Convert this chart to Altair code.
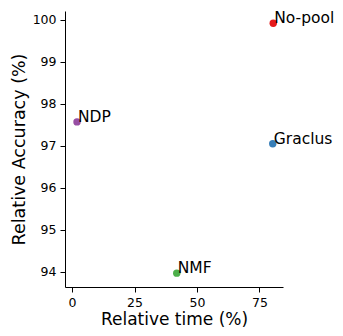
import altair as alt
import pandas as pd

methods = ["No-pool", "Graclus", "NDP", "NMF"]
rel_time = [80.5, 80.3, 2.0, 41.9]
rel_acc = [99.92, 97.05, 97.57, 93.97]
colors = ["#e41a1c", "#377eb8", "#984ea3", "#4daf4a"]
x_ticks = [0, 25, 50, 75]
y_ticks = [94, 95, 96, 97, 98, 99, 100]

df = pd.DataFrame({"method": methods, "time": rel_time, "acc": rel_acc})

FONT = "DejaVu Sans"

x = alt.X("time:Q", title="Relative time (%)",
          scale=alt.Scale(domain=[-2.8, 84.4], nice=False, zero=False),
          axis=alt.Axis(values=x_ticks, grid=False, tickSize=5, labelPadding=4.5,
                        titlePadding=2, labelFontSize=12.5, titleFontSize=17,
                        titleFontWeight="normal", labelColor="#000", titleColor="#000",
                        domainColor="#000", tickColor="#000", labelFont=FONT, titleFont=FONT))
y = alt.Y("acc:Q", title="Relative Accuracy (%)",
          scale=alt.Scale(domain=[93.64, 100.21], nice=False, zero=False),
          axis=alt.Axis(values=y_ticks, grid=False, tickSize=5, labelPadding=4,
                        titlePadding=3.5, labelFontSize=12.5, titleFontSize=17.5,
                        titleFontWeight="normal", labelColor="#000", titleColor="#000",
                        domainColor="#000", tickColor="#000", labelFont=FONT, titleFont=FONT))

color = alt.Color("method:N", scale=alt.Scale(domain=methods, range=colors), legend=None)

pts = alt.Chart(df).mark_circle(size=55, opacity=1).encode(x=x, y=y, color=color)
txt = alt.Chart(df).mark_text(align="left", baseline="alphabetic", dx=1, fontSize=15.5,
                              font=FONT, color="#000").encode(x="time:Q", y="acc:Q", text="method:N")

chart = (pts + txt).properties(
    width=218, height=276,
    autosize=alt.AutoSizeParams(type="none"),
    padding={"left": 57, "top": 3, "right": 52, "bottom": 41},
).configure_view(stroke=None).configure_axis(domainWidth=1, tickWidth=1)

chart.save("out.html", embed_options={"renderer": "svg", "actions": False})
